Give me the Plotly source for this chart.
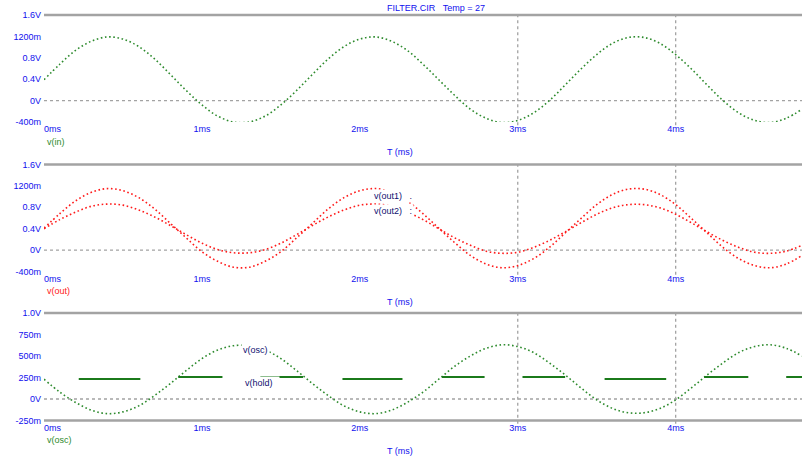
import plotly.graph_objects as go

# ---- data -------------------------------------------------------------
# sample instants (ms), 0.1 ms apart
time_ms = [round(0.1 * k, 1) for k in range(49)]

# panel 1: input node voltage (V)
v_in = [0.39, 0.68, 0.94, 1.11, 1.19, 1.15, 1.01, 0.78, 0.49, 0.19,
        -0.08, -0.29, -0.40, -0.40, -0.29, -0.08, 0.19, 0.49, 0.78, 1.01,
        1.15, 1.19, 1.11, 0.94, 0.68, 0.39, 0.10, -0.16, -0.33, -0.41,
        -0.37, -0.23, 0.00, 0.29, 0.59, 0.86, 1.07, 1.18, 1.18, 1.07,
        0.86, 0.59, 0.29, 0.00, -0.23, -0.37, -0.41, -0.33, -0.16]

# panel 2: two output node voltages (V)
v_out1 = [0.41, 0.68, 0.92, 1.08, 1.15, 1.11, 0.98, 0.77, 0.50, 0.23,
          -0.03, -0.21, -0.32, -0.32, -0.21, -0.03, 0.23, 0.50, 0.77, 0.98,
          1.11, 1.15, 1.08, 0.92, 0.68, 0.41, 0.14, -0.10, -0.26, -0.33,
          -0.29, -0.16, 0.05, 0.32, 0.59, 0.85, 1.04, 1.14, 1.14, 1.04,
          0.85, 0.59, 0.32, 0.05, -0.16, -0.29, -0.33, -0.26, -0.10]
v_out2 = [0.40, 0.57, 0.71, 0.82, 0.86, 0.84, 0.75, 0.62, 0.46, 0.29,
          0.13, 0.01, -0.05, -0.05, 0.01, 0.13, 0.29, 0.46, 0.62, 0.75,
          0.84, 0.86, 0.82, 0.71, 0.57, 0.40, 0.23, 0.09, -0.02, -0.06,
          -0.04, 0.05, 0.18, 0.34, 0.51, 0.67, 0.79, 0.85, 0.85, 0.79,
          0.67, 0.51, 0.34, 0.18, 0.05, -0.04, -0.06, -0.02, 0.09]

# panel 3: inverted oscillator voltage (V)
v_osc = [0.23, 0.08, -0.04, -0.13, -0.17, -0.15, -0.08, 0.04, 0.18, 0.33,
         0.47, 0.57, 0.62, 0.62, 0.57, 0.47, 0.33, 0.18, 0.04, -0.08,
         -0.15, -0.17, -0.13, -0.04, 0.08, 0.23, 0.38, 0.50, 0.59, 0.63,
         0.61, 0.54, 0.42, 0.28, 0.13, -0.01, -0.11, -0.16, -0.16, -0.11,
         -0.01, 0.13, 0.28, 0.42, 0.54, 0.61, 0.63, 0.59, 0.50]

# panel 3: held level, valid only inside each window (ms, V)
hold_start_ms = [0.22, 0.85, 1.37, 1.89, 2.52, 3.03, 3.55, 4.18, 4.70]
hold_end_ms   = [0.61, 1.13, 1.64, 2.27, 2.79, 3.30, 3.94, 4.46, 4.80]
hold_level    = [0.233, 0.256, 0.256, 0.233, 0.256, 0.256, 0.233, 0.256, 0.256]

x_ticks = [1, 2, 3, 4]
x_ticktext = ["1ms", "2ms", "3ms", "4ms"]
x_origin_tick = [0]
x_origin_text = ["0ms"]
y1_ticks = [-0.4, 0, 0.4, 0.8, 1.2, 1.6]
y1_ticktext = ["-400m", "0V", "0.4V", "0.8V", "1200m", "1.6V"]
y3_ticks = [-0.25, 0, 0.25, 0.5, 0.75, 1.0]
y3_ticktext = ["-250m", "0V", "250m", "500m", "750m", "1.0V"]
cursor_ms = [3, 4]

# ---- styling ----------------------------------------------------------
W, H, LEFT = 802, 458, 44
GREEN = "#2e8b2e"
DKGREEN = "#1b7a1b"
RED = "#ff1a1a"
BLUE = "#1010ee"
NAVY = "#101070"
GRAY = "#a3a3a3"
FONT = "Liberation Sans"
X_RANGE = [0, 4.8]


def px_x(p):
    return (p - LEFT) / (W - LEFT)


def px_y(p):
    return 1 - p / H


fig = go.Figure()

dotted = dict(width=1.6, dash="1.6px,2.6px")

fig.add_trace(go.Scatter(x=time_ms, y=v_in, mode="lines", line_shape="spline",
                         line=dict(color=GREEN, **dotted), xaxis="x", yaxis="y",
                         cliponaxis=False))
fig.add_trace(go.Scatter(x=time_ms, y=v_out1, mode="lines", line_shape="spline",
                         line=dict(color=RED, **dotted), xaxis="x2", yaxis="y2",
                         cliponaxis=False))
fig.add_trace(go.Scatter(x=time_ms, y=v_out2, mode="lines", line_shape="spline",
                         line=dict(color=RED, **dotted), xaxis="x2", yaxis="y2",
                         cliponaxis=False))
fig.add_trace(go.Scatter(x=time_ms, y=v_osc, mode="lines", line_shape="spline",
                         line=dict(color=GREEN, **dotted), xaxis="x3", yaxis="y3",
                         cliponaxis=False))

hx, hy = [], []
for a, b, lv in zip(hold_start_ms, hold_end_ms, hold_level):
    hx += [a, b, None]
    hy += [lv, lv, None]
fig.add_trace(go.Scatter(x=hx, y=hy, mode="lines",
                         line=dict(color=DKGREEN, width=2), xaxis="x3", yaxis="y3"))

tickfont = dict(family=FONT, size=9, color=BLUE)

panels = [
    ("x", "y", "x4", (px_y(122), px_y(15)), y1_ticks, y1_ticktext, [-0.4, 1.6]),
    ("x2", "y2", "x5", (px_y(271.5), px_y(164.5)), y1_ticks, y1_ticktext, [-0.4, 1.6]),
    ("x3", "y3", "x6", (px_y(420.5), px_y(313)), y3_ticks, y3_ticktext, [-0.25, 1.0]),
]

layout = dict(
    width=W, height=H,
    margin=dict(l=LEFT, r=0, t=0, b=0),
    paper_bgcolor="white", plot_bgcolor="white",
    showlegend=False,
    font=dict(family=FONT, size=9),
)
shapes = []
for xa, ya, xo, dom, yt, ytt, yr in panels:
    xkey = "xaxis" + xa[1:]
    ykey = "yaxis" + ya[1:]
    okey = "xaxis" + xo[1:]
    common_x = dict(range=X_RANGE, tickfont=tickfont, showgrid=False,
                    zeroline=False, showline=False, ticks="",
                    automargin=False, fixedrange=True)
    layout[xkey] = dict(domain=[0, 1], anchor=ya, tickvals=x_ticks,
                        ticktext=x_ticktext, **common_x)
    # origin label, left-aligned on the origin so it clears the y labels
    layout[okey] = dict(overlaying=xa, anchor=ya, side="bottom",
                        tickvals=x_origin_tick, ticktext=x_origin_text,
                        ticklabelposition="outside right", **common_x)
    # empty trace so the overlaid axis gets drawn
    fig.add_trace(go.Scatter(x=[], y=[], xaxis=xo, yaxis=ya, hoverinfo="skip"))
    layout[ykey] = dict(domain=list(dom), range=yr, anchor=xa,
                        tickvals=yt, ticktext=ytt, tickfont=tickfont,
                        showgrid=False, zeroline=False, showline=False,
                        ticks="", ticklabelstandoff=2,
                        automargin=False, fixedrange=True)
    # frame line along the top of each plot
    shapes.append(dict(type="line", xref=xa + " domain", yref=ya + " domain",
                       x0=0, x1=1, y0=1, y1=1, line=dict(color=GRAY, width=2.5)))
    # dotted zero reference
    shapes.append(dict(type="line", xref=xa + " domain", yref=ya,
                       x0=0, x1=1, y0=0, y1=0,
                       line=dict(color=GRAY, width=1.3, dash="dot"), layer="below"))
    # cursor lines
    for c in cursor_ms:
        shapes.append(dict(type="line", xref=xa, yref=ya + " domain",
                           x0=c, x1=c, y0=-0.03, y1=1,
                           line=dict(color=GRAY, width=1.3, dash="dot"), layer="below"))

# bottom frame of the last plot
shapes.append(dict(type="line", xref="x3 domain", yref="y3 domain",
                   x0=0, x1=1, y0=0, y1=0, line=dict(color=GRAY, width=2.5)))
layout["shapes"] = shapes

ann = []
ann.append(dict(text="FILTER.CIR   Temp = 27", x=px_x(436), y=px_y(8),
                xref="paper", yref="paper", yanchor="middle", showarrow=False,
                font=dict(family=FONT, size=9, color=BLUE)))
for py in (152, 302, 451):
    ann.append(dict(text="T (ms)", x=px_x(400), y=px_y(py), xref="paper", yref="paper",
                    yanchor="middle", showarrow=False,
                    font=dict(family=FONT, size=9, color=BLUE)))
for py, txt, col in ((142, "v(in)", GREEN), (291, "v(out)", RED), (440, "v(osc)", GREEN)):
    ann.append(dict(text=txt, x=px_x(45), y=px_y(py), xref="paper", yref="paper",
                    xanchor="left", yanchor="middle", showarrow=False,
                    font=dict(family=FONT, size=9, color=col)))
# inline trace labels with opaque background
for xv, yv, xa, ya, txt in ((2.08, 1.02, "x2", "y2", "v(out1)   ."),
                            (2.08, 0.74, "x2", "y2", "v(out2)   :"),
                            (1.25, 0.57, "x3", "y3", "v(osc)"),
                            (1.26, 0.19, "x3", "y3", "v(hold)  ")):
    ann.append(dict(text=txt, x=xv, y=yv, xref=xa, yref=ya, xanchor="left",
                    yanchor="middle", showarrow=False, bgcolor="white",
                    font=dict(family=FONT, size=9, color=NAVY)))
layout["annotations"] = ann

fig.update_layout(**layout)
fig.write_html("out.html")
